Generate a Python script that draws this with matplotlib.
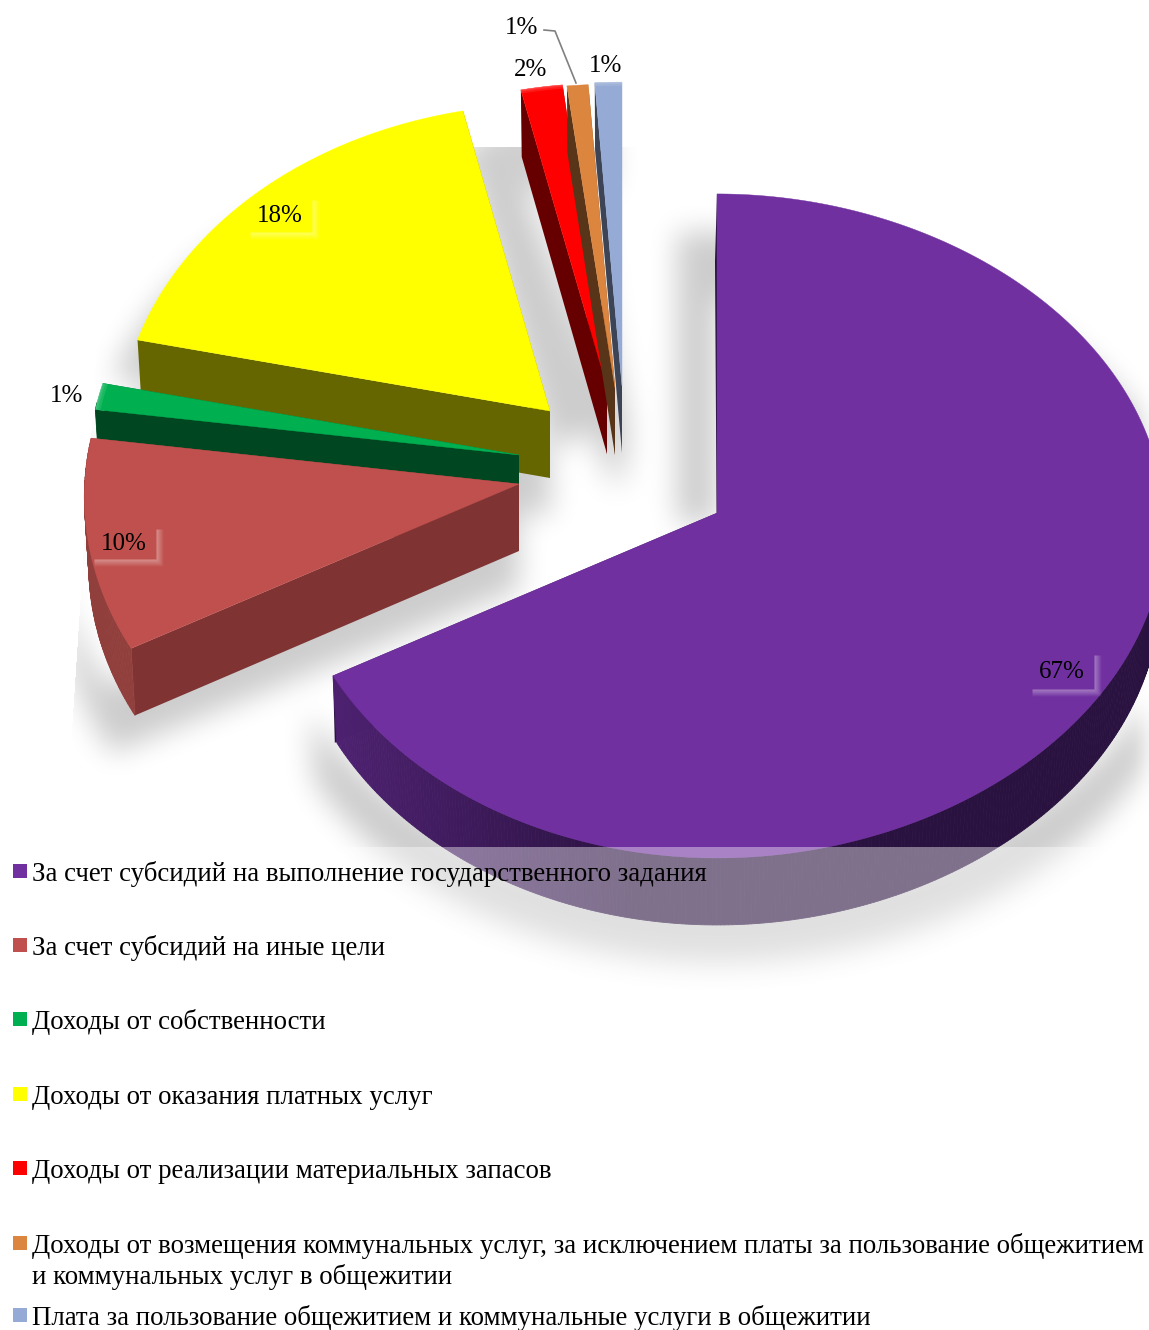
#! /usr/bin/env python
import numpy as np
import matplotlib
matplotlib.use("Agg")
import matplotlib.pyplot as plt
from matplotlib.backends.backend_agg import FigureCanvasAgg
from matplotlib.figure import Figure

# data
categories = [
    "За счет субсидий на выполнение государственного задания",
    "За счет субсидий на иные цели",
    "Доходы от собственности",
    "Доходы от оказания платных услуг",
    "Доходы от реализации материальных запасов",
    "Доходы от возмещения коммунальных услуг, за исключением платы за пользование общежитием\nи коммунальных услуг в общежитии",
    "Плата за пользование общежитием и коммунальные услуги в общежитии",
]
shares = [67.0, 10.2, 1.3, 18.0, 1.7, 0.8, 1.0]
share_labels = ["67%", "10%", "1%", "18%", "2%", "1%", "1%"]

# styles
top_colors = ["#7030A0", "#C0504D", "#00B050", "#FFFF00", "#FF0000", "#DC853F", "#95AAD4"]
side_colors = ["#2A1240", "#803333", "#004620", "#666600", "#660000", "#583519", "#3C4455"]
rim_colors = ["#2A1240", "#913F3C", "#004620", "#666600", "#660000", "#583519", "#3C4455"]

# layout of the exploded slices, in pixels
W, H = 1149, 1330
RX, RY, DEPTH = 430, 331.5, 67
apex_x = [717, 519, 519, 550, 607, 615, 622]
apex_y = [513, 484, 455, 411, 387, 388, 386]
scale = [1.0, 1.01, 1.0, 1.0, 0.99, 0.99, 0.99]
stretch_x = [1.0, 1.0, 1.0, 1.0, 1.0, 1.08, 1.1]
persp = [0.039, 0.039, 0.039, 0.08, 0.08, 0.08, 0.08]
lean = [-2, 0, 0, 0, 0, 0, 0]
draw_order = [3, 4, 5, 6, 2, 1, 0]
label_x = [1062, 124, 67, 280, 531, 522, 606]
label_y = [672, 544, 396, 216, 70, 28, 66]
legend_y = [871, 945, 1019, 1094, 1168, 1243, 1315]
LINE_GAP = 31

plt.rcParams["font.family"] = ["Liberation Serif", "DejaVu Serif"]

edges = np.cumsum([0] + shares) * 3.6


def rim_point(i, theta):
    t = np.radians(theta)
    w = 1 + persp[i] * np.cos(t)
    sx = scale[i] * stretch_x[i]
    if i == 0:
        # the big slice bulges further out on its right
        sx = np.where(np.sin(t) > 0, 1 + 0.04 * np.sin(t), 1.0)
    x = apex_x[i] + RX * sx * np.sin(t) / w
    y = apex_y[i] - RY * scale[i] * np.cos(t) / w
    return x, y


def arc(i, frac=1.0):
    thetas = np.linspace(edges[i], edges[i + 1], max(int(edges[i + 1] - edges[i]) * 2, 4))
    x, y = rim_point(i, thetas)
    return apex_x[i] + (x - apex_x[i]) * frac, apex_y[i] + (y - apex_y[i]) * frac


def lower(i, x, y):
    return apex_x[i] + (x - apex_x[i]) * 0.99, y + DEPTH


def blur(a, width):
    kernel = np.ones(width) / width
    for _ in range(3):
        a = np.apply_along_axis(lambda r: np.convolve(r, kernel, mode="same"), 0, a)
        a = np.apply_along_axis(lambda r: np.convolve(r, kernel, mode="same"), 1, a)
    return a


def shadow_image():
    sfig = Figure(figsize=(W / 100, H / 100), dpi=100)
    canvas = FigureCanvasAgg(sfig)
    sax = sfig.add_axes([0, 0, 1, 1])
    sax.set_xlim(0, W)
    sax.set_ylim(H, 0)
    sax.axis("off")
    for i in range(len(shares)):
        x, y = arc(i)
        bx, by = lower(i, x, y)
        xs = np.r_[apex_x[i], x, bx[::-1], apex_x[i]]
        ys = np.r_[apex_y[i], y, by[::-1], apex_y[i] + DEPTH]
        xs = apex_x[i] + (xs - apex_x[i]) * 1.06
        if i >= 4:
            # thin slices throw a shadow that leans left towards the top
            xs = xs + 6 - 20 * np.clip((apex_y[i] - ys) / 300, 0, 1)
        sax.fill(xs, ys + 38, color="k", lw=0)
    # gap between the yellow slice and the small ones is shadowed too
    x3, y3 = rim_point(3, edges[4])
    x4, y4 = rim_point(4, edges[4])
    sax.fill([apex_x[3], x3, x4 - 20, apex_x[4]], [apex_y[3] + 38, y3 + 38, y4 + 38, apex_y[4] + 38], color="k", lw=0)
    # big slice also shadows to the left of its vertical edge
    x0, y0 = rim_point(0, 0)
    sax.fill([x0 - 40, x0, x0, x0 - 40], [y0 + 38, y0 + 38, apex_y[0] + 10, apex_y[0] + 10], color="k", lw=0)
    canvas.draw()
    mask = 1 - np.asarray(canvas.buffer_rgba())[:, :, 0] / 255.0
    soft = blur(mask, 27)
    yy, xx = np.mgrid[0:mask.shape[0], 0:mask.shape[1]]
    soft[yy < 147] = 0
    soft[xx < 72 + np.clip(723 - yy, 0, None) * 0.065] = 0
    rgba = np.zeros(mask.shape + (4,))
    rgba[:, :, 3] = soft * 0.2
    return rgba


def draw_slice(ax, i):
    x, y = arc(i)
    bx, by = lower(i, x, y)
    ax_b, ay_b = apex_x[i], apex_y[i] + DEPTH
    # radial faces
    for end in (0, -1):
        ax.fill([x[end], apex_x[i], ax_b, bx[end] + lean[i]], [y[end], apex_y[i], ay_b, by[end]],
                color=side_colors[i], lw=0)
    # outer wall, only where it faces the viewer
    thetas = np.linspace(edges[i], edges[i + 1], len(x))
    for j in range(len(x) - 1):
        if np.cos(np.radians(thetas[j])) > 0.15:
            continue
        c = np.array(matplotlib.colors.to_rgb(rim_colors[i]))
        if i == 0:
            # purple wall is lit from the left
            f = np.clip((640 - x[j]) / 300, 0, 1)
            c = c + f * (np.array([77, 33, 112]) / 255 - c)
        ax.fill([x[j], x[j + 1], bx[j + 1], bx[j]], [y[j], y[j + 1], by[j + 1], by[j]], color=c, lw=0.6)
    # top
    ax.fill(np.r_[apex_x[i], x], np.r_[apex_y[i], y], color=top_colors[i], lw=0.3)
    # bevel on small slices
    if i in (2, 4, 6):
        for frac in (0.998, 0.994, 0.988):
            fx, fy = arc(i, frac)
            ox, oy = arc(i)
            ax.fill(np.r_[fx, ox[::-1]], np.r_[fy, oy[::-1]], color="w", alpha=0.1, lw=0)


def label_glow(ax, i, half_w, half_h):
    right = label_x[i] + half_w
    bottom = label_y[i] + half_h
    left = label_x[i] - half_w
    top = label_y[i] - half_h
    for k in range(7):
        ax.plot([left + 4, right + k, right + k], [bottom + k, bottom + k, top + 2],
                color="w", alpha=0.24 * (1 - k / 7), lw=1.1, solid_capstyle="round")


fig = plt.figure(figsize=(W / 100, H / 100), dpi=100)
ax = fig.add_axes([0, 0, 1, 1])
ax.set_xlim(0, W)
ax.set_ylim(H, 0)
ax.axis("off")

ax.imshow(shadow_image(), extent=(0, W, H, 0), aspect="auto", zorder=0, interpolation="nearest")
ax.set_xlim(0, W)
ax.set_ylim(H, 0)

for i in draw_order:
    draw_slice(ax, i)

# translucent legend panel lies over the bottom of the pie
ax.fill([0, W, W, 0], [847, 847, H, H], color="w", alpha=0.4, lw=0, zorder=3)

label_glow(ax, 0, 33, 18)
label_glow(ax, 1, 33, 16)
label_glow(ax, 3, 33, 17)

for i in range(len(shares)):
    ax.text(label_x[i], label_y[i], share_labels[i], fontsize=18, ha="center", va="center", color="k", zorder=5)
ax.plot([544, 555, 576], [30, 31, 83], color="#808080", lw=1.2, zorder=4)

for i, name in enumerate(categories):
    ax.fill([13, 27, 27, 13], [legend_y[i] - 7, legend_y[i] - 7, legend_y[i] + 7, legend_y[i] + 7],
            color=top_colors[i], lw=0, zorder=5)
    for n, line in enumerate(name.split("\n")):
        ax.text(32, legend_y[i] + 10 + n * LINE_GAP, line, fontsize=19.4, va="baseline", ha="left",
                color="k", zorder=5)

fig.savefig("out.png", dpi=100)
